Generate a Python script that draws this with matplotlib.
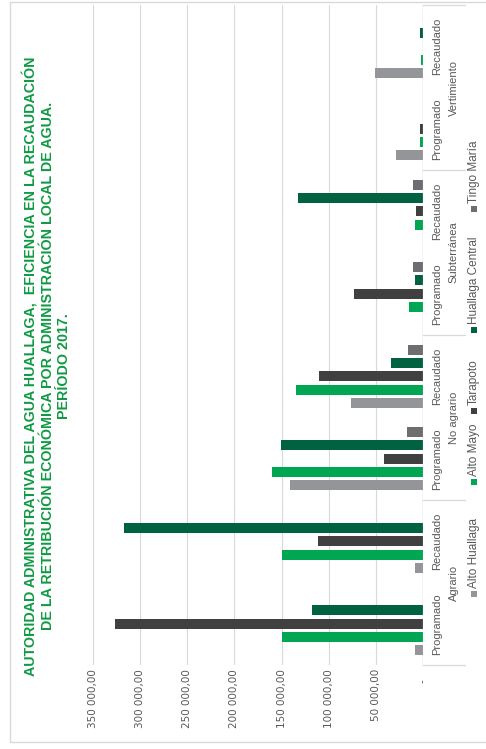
import matplotlib
matplotlib.use("Agg")
import matplotlib.pyplot as plt
from matplotlib.patches import Rectangle
from matplotlib.lines import Line2D
from matplotlib.transforms import blended_transform_factory

# --- datos (de abajo hacia arriba en la imagen girada) ---
groups = ["Agrario", "No agrario", "Subterránea", "Vertimiento"]
subcats = ["Programado", "Recaudado"]

series_names = ["Alto Huallaga", "Alto Mayo", "Tarapoto", "Huallaga Central", "Tingo María"]
alto_huallaga = [8800, 8800, 141200, 76400, 0, 0, 29200, 51000]
alto_mayo = [149500, 149500, 160300, 134900, 15100, 8800, 3800, 2800]
tarapoto = [325900, 111300, 41200, 110600, 73300, 7700, 3500, 500]
huallaga_central = [118000, 316400, 150700, 34500, 9100, 132800, 600, 3500]
tingo_maria = [0, 0, 16900, 15900, 10600, 10900, 0, 0]

colors = ["#939598", "#00a651", "#404041", "#006241", "#6d6e71"]
title = ("AUTORIDAD ADMINISTRATIVA DEL AGUA HUALLAGA,  EFICIENCIA EN LA RECAUDACIÓN\n"
         "DE LA RETRIBUCIÓN ECONÓMICA POR ADMINISTRACIÓN LOCAL DE AGUA.\n"
         "PERÍODO 2017.")

W, H = 486, 749
fig = plt.figure(figsize=(W / 100, H / 100), dpi=100)
label_font = ["Liberation Sans", "DejaVu Sans"]


def fx(px):
    return px / W


def fy(py):
    return 1 - py / H


# borde del área del gráfico
fig.patches.append(Rectangle((fx(10), fy(742)), 1.2, fy(2) - fy(742), transform=fig.transFigure,
                             fill=False, edgecolor="#d9d9d9", linewidth=1.0))

left, right, top, bottom = 92.7, 423.3, 5, 665
ax = fig.add_axes([fx(left), fy(bottom), fx(right) - fx(left), (bottom - top) / H])

all_series = [alto_huallaga, alto_mayo, tarapoto, huallaga_central, tingo_maria]
n_cat = len(groups) * len(subcats)
pos = list(range(n_cat))
step, bh = 0.161, 0.121
for k, (name, vals, col) in enumerate(zip(series_names, all_series, colors)):
    ax.barh([p + (k - 2) * step for p in pos], vals, height=bh, color=col, label=name, zorder=3)

ax.set_xlim(350000, 0)
ax.set_ylim(-0.5, n_cat - 0.5)
ticks = list(range(0, 350001, 50000))
ax.set_xticks(ticks)
ax.set_xticklabels([f"{t:,.2f}".replace(",", " ").replace(".", ",") if t else "-   " for t in ticks])
ax.tick_params(axis="x", length=0, pad=3, labelrotation=90, labelsize=7.5, labelcolor="#595959")
ax.set_yticks([])
for s in ax.spines.values():
    s.set_visible(False)
ax.grid(axis="x", color="#d9d9d9", linewidth=0.8, zorder=0)
ax.axvline(0, color="#bfbfbf", linewidth=0.9, zorder=4)

# etiquetas de categoría en dos niveles
trans = blended_transform_factory(ax.transAxes, ax.transData)
for b in [-0.5 + 2 * g for g in range(len(groups) + 1)]:
    ax.add_line(Line2D([1.0, 1.126], [b, b], transform=trans, clip_on=False,
                       color="#d9d9d9", linewidth=0.9))
for i in pos:
    ax.text(1.041, i, subcats[i % 2], transform=trans, rotation=90, ha="center", va="center",
            fontsize=8, color="#595959", family=label_font)
for g, gname in enumerate(groups):
    ax.text(1.092, 2 * g + 0.5, gname, transform=trans, rotation=90, ha="center", va="center",
            fontsize=8, color="#595959", family=label_font)

# leyenda manual girada
legend_marker_y = [597, 485, 414, 333, 212]
for name, col, ly in zip(series_names, colors, legend_marker_y):
    fig.patches.append(Rectangle((fx(471), fy(ly)), fx(6), 6 / H, transform=fig.transFigure,
                                 facecolor=col, edgecolor="none"))
    fig.text(fx(474), fy(ly - 9), name, rotation=90, rotation_mode="anchor",
             ha="left", va="center", fontsize=8.5, color="#595959", family=label_font)

# título
fig.text(fx(47), fy(366), title, rotation=90, ha="center", va="center", multialignment="center",
         fontsize=10.3, fontweight="bold", color="#109a44", linespacing=1.2,
         family=label_font)

fig.savefig("out.png", dpi=100)
